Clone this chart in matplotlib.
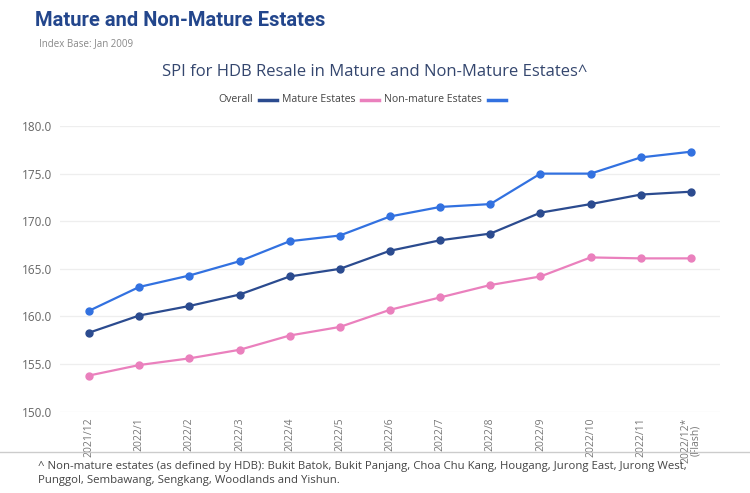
import numpy as np
import matplotlib
matplotlib.use("Agg")
import matplotlib.pyplot as plt
from matplotlib.lines import Line2D

# data
months = ["2021/12", "2022/1", "2022/2", "2022/3", "2022/4", "2022/5", "2022/6",
          "2022/7", "2022/8", "2022/9", "2022/10", "2022/11", "2022/12*\n(Flash)"]
overall = [158.3, 160.1, 161.1, 162.3, 164.2, 165.0, 166.9, 168.0, 168.7, 170.9, 171.8, 172.8, 173.1]
mature = [153.8, 154.9, 155.6, 156.5, 158.0, 158.9, 160.7, 162.0, 163.3, 164.2, 166.2, 166.1, 166.1]
non_mature = [160.6, 163.1, 164.3, 165.8, 167.9, 168.5, 170.5, 171.5, 171.8, 175.0, 175.0, 176.7, 177.3]
yticks = [150, 155, 160, 165, 170, 175, 180]
legend_labels = ["Overall", "Mature Estates", "Non-mature Estates"]

c_overall = "#2b4b8f"
c_mature = "#ea80bd"
c_non = "#3271e0"

W, H = 750, 493
fig = plt.figure(figsize=(7.5, 4.93), dpi=100)
fig.patch.set_facecolor("white")

def fx(px):
    return px / W

def fy(py):
    return 1 - py / H

ax = fig.add_axes([fx(60), fy(411.7), fx(720) - fx(60), fy(126) - fy(411.7)])
x = np.arange(len(months))

for vals, col in [(mature, c_mature), (overall, c_overall), (non_mature, c_non)]:
    ax.plot(x, vals, color=col, lw=1.6, marker="o", ms=5, zorder=3)

ax.set_ylim(150, 180)
ax.set_xlim(-0.58, 12.58)
ax.set_yticks(yticks)
ax.set_yticklabels([f"{v:.1f}" for v in yticks], fontsize=8.5, color="#666666", family="Open Sans")
ax.set_xticks(x)
ax.set_xticklabels(months, rotation=90, fontsize=7.5, color="#777777", va="top",
                   family="Open Sans", linespacing=0.9)
ax.tick_params(axis="both", length=0, pad=6)
ax.tick_params(axis="x", pad=4)
ax.grid(axis="y", color="#eeeeee", lw=0.9)
ax.set_axisbelow(True)
for s in ax.spines.values():
    s.set_visible(False)

# headers
fig.text(fx(35), fy(21), "Mature and Non-Mature Estates", fontsize=14.5, fontweight="bold",
         color="#23468c", va="center", family=["Liberation Sans Narrow", "Roboto"])
fig.text(fx(39), fy(44), "Index Base: Jan 2009", fontsize=7, color="#888888", va="center",
         family="Open Sans")
fig.text(fx(375), fy(72), "SPI for HDB Resale in Mature and Non-Mature Estates^", fontsize=12,
         color="#34466e", ha="center", va="center", family="Open Sans")

# legend: each label followed by its line symbol, laid out left to right
renderer = fig.canvas.get_renderer()
ly = fy(100)
cur = 218
for label, col in zip(legend_labels, [c_overall, c_mature, c_non]):
    t = fig.text(fx(cur), ly, label, fontsize=7.6, color="#444444", va="center", family="Open Sans")
    w = t.get_window_extent(renderer).width
    l0 = cur + w + 6
    fig.add_artist(Line2D([fx(l0), fx(l0 + 18)], [ly, ly], color=col, lw=2.5,
                          transform=fig.transFigure))
    cur = l0 + 18 + 5

# footnote
fig.add_artist(Line2D([0, 1], [fy(452), fy(452)], color="#cccccc", lw=1, transform=fig.transFigure))
fig.text(fx(38), fy(466), "^ Non-mature estates (as defined by HDB): Bukit Batok, Bukit Panjang, "
         "Choa Chu Kang, Hougang, Jurong East, Jurong West,", fontsize=8.2, color="#444444",
         va="center", family="Open Sans")
fig.text(fx(38), fy(481), "Punggol, Sembawang, Sengkang, Woodlands and Yishun.", fontsize=8.2,
         color="#444444", va="center", family="Open Sans")

fig.savefig("out.png", dpi=100)
